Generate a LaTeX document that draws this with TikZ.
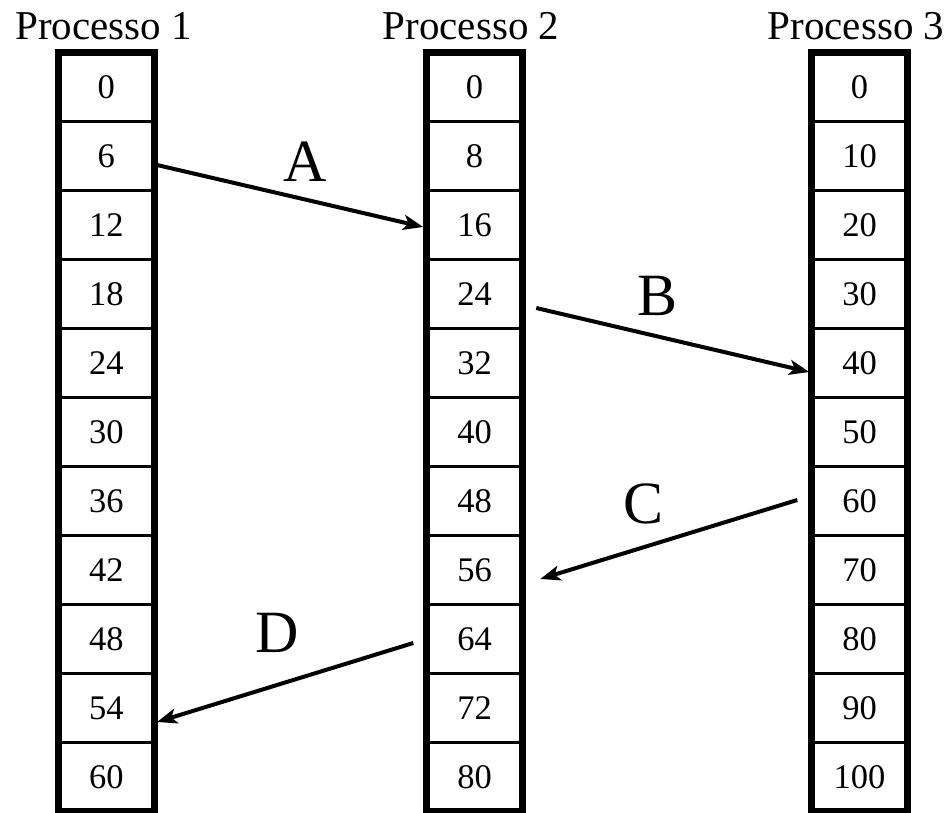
\documentclass[tikz,border=0pt]{standalone}
\usepackage{fontspec}
\setmainfont{Liberation Serif}
\usetikzlibrary{arrows.meta,calc}

\tikzset{
  cell/.style={draw, line width=3.5pt, outer sep=0pt, inner sep=0pt,
    minimum width=95.5pt, minimum height=69pt,
    font=\fontsize{34.5}{40}\selectfont},
  frame/.style={line width=7pt},
  title/.style={anchor=base, inner sep=0pt, font=\fontsize{41}{47}\selectfont},
  msglabel/.style={anchor=base, inner sep=0pt, font=\fontsize{60}{66}\selectfont},
  msg/.style={line width=4pt, -{Stealth[length=20pt,width=15pt,inset=5pt]}},
}

\begin{document}
\begin{tikzpicture}[x=1pt, y=-1pt]
\useasboundingbox (0,0) rectangle (952,812);

% one column of clock values per process
\foreach \p/\cx/\step in {1/106.25/6, 2/474.5/8, 3/859.5/10} {
  \foreach \r in {1,...,11} {
    \pgfmathtruncatemacro{\val}{(\r-1)*\step}
    \node[cell] (p\p r\r) at (\cx, {52.5 + 69*(\r-0.5)}) {\val};
  }
  \draw[frame] (p\p r1.north west) rectangle (p\p r11.south east);
}

% process titles
\node[title] (t1) at (103.5, 39) {Processo 1};
\node[title] (t2) at (471, 39) {Processo 2};
\node[title] (t3) at (856, 39) {Processo 3};

% messages
\draw[msg] ($(p1r2.east)+(3,9)$) -- ($(p2r3.west)+(-3.5,2)$);
\draw[msg] ($(p2r4.east)+(14,14)$) -- ($(p3r5.west)+(-2.5,9)$);
\draw[msg] ($(p3r7.west)+(-14.5,-1)$) -- ($(p2r8.east)+(18,9)$);
\draw[msg] ($(p2r9.west)+(-13.5,4)$) -- ($(p1r10.east)+(3,14)$);

\node[msglabel] (la) at (305, 181) {A};
\node[msglabel] (lb) at (657, 315) {B};
\node[msglabel] (lc) at (643, 523) {C};
\node[msglabel] (ld) at (277, 652) {D};
\end{tikzpicture}
\end{document}
